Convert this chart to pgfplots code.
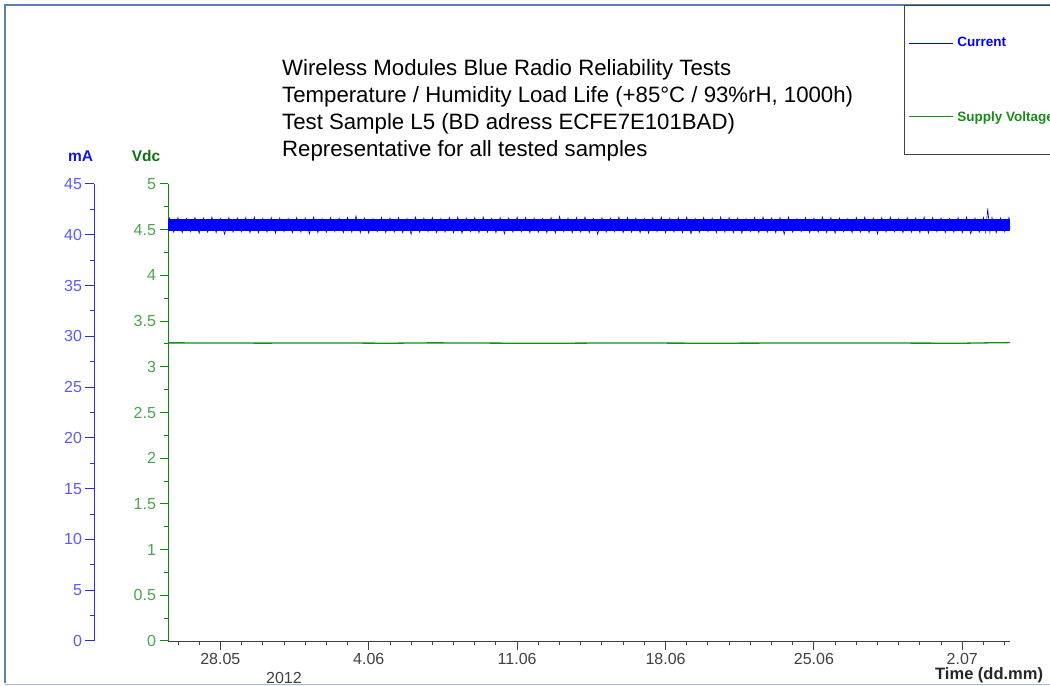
\documentclass[border=0pt]{standalone}
\usepackage{pgfplots}
\pgfplotsset{compat=1.18}
\usepackage{fontspec}
\setmainfont{Liberation Sans}
\definecolor{frameblue}{HTML}{5B7FAE}
\definecolor{framelight}{HTML}{A8B6CC}
\definecolor{curblue}{HTML}{0000FF}
\definecolor{maaxis}{HTML}{2A2AFF}
\definecolor{malabel}{HTML}{5A5AFF}
\definecolor{matitle}{HTML}{1515E0}
\definecolor{vgreen}{HTML}{1A8A1A}
\definecolor{vaxis}{HTML}{0B8A0B}
\definecolor{vlabel}{HTML}{4AA64A}
\definecolor{vtitle}{HTML}{107010}
\begin{document}
\begin{tikzpicture}
\clip (0bp,0bp) rectangle (1050bp,686bp);
\fill[white] (0bp,0bp) rectangle (1050bp,686bp);
\draw[frameblue, line width=2bp] (5bp,3bp) -- (5bp,681bp) -- (1050bp,681bp);
\draw[framelight, line width=1.5bp] (5bp,1.5bp) -- (1050bp,1.5bp);
% Voltage axis (main)
\begin{axis}[
  at={(168bp,45bp)}, anchor=south west,
  width=842bp, height=457bp, scale only axis,
  xmin=-2.47, xmax=37.25, ymin=0, ymax=5,
  axis x line*=bottom, axis y line*=left,
  axis line style={-},
  every outer x axis line/.append style={-},
  every outer y axis line/.append style={-},
  x axis line style={draw=black!75, line width=0.9bp},
  y axis line style={draw=vaxis, line width=1bp},
  tick align=outside,
  major tick length=8.5bp, minor tick length=4bp,
  xtick={0,7,14,21,28,35},
  xticklabels={28.05,4.06,11.06,18.06,25.06,2.07},
  minor xtick={-2,-1,...,37},
  ytick={0,0.5,...,5},
  yticklabels={0,0.5,1,1.5,2,2.5,3,3.5,4,4.5,5},
  minor y tick num=1,
  xtick style={draw=black!75, line width=0.9bp},
  ytick style={draw=vaxis, line width=1bp},
  xticklabel style={font=\fontsize{16bp}{18bp}\selectfont, text=black!75},
  yticklabel style={font=\fontsize{16bp}{18bp}\selectfont, text=vlabel},
  /pgf/number format/assume math mode=true,
]
\addplot[vgreen, line width=1.3bp] coordinates {
(-2.47,3.262) (2,3.259) (5,3.261) (8,3.258) (10,3.262) (13,3.259) (15,3.257) (18,3.26) (20,3.26)
(23,3.258) (25,3.259) (28,3.261) (30,3.261) (33,3.259) (35,3.258) (36.2,3.262) (37.25,3.265)
};
\end{axis}
% Current axis
\begin{axis}[
  at={(168bp,45bp)}, anchor=south west,
  width=842bp, height=457bp, scale only axis,
  xmin=-2.47, xmax=37.25, ymin=0, ymax=45,
  axis x line=none, axis y line*=left,
  axis y line shift=74bp,
  axis line style={-},
  every outer y axis line/.append style={-},
  y axis line style={draw=maaxis, line width=1bp},
  tick align=outside,
  major tick length=8.5bp, minor tick length=4bp,
  xtick=\empty,
  ytick={0,5,...,45},
  minor y tick num=1,
  ytick style={draw=maaxis, line width=1bp},
  yticklabel style={font=\fontsize{16bp}{18bp}\selectfont, text=malabel},
  /pgf/number format/assume math mode=true,
  legend cell align=left,
  legend image code/.code={\draw[#1] (0bp,0bp) -- (44bp,0bp);},
  legend style={at={(0.8741,1.3917)}, anchor=north west, draw=black!75, line width=0.8bp,
    fill=white, inner xsep=4bp, inner ysep=30bp, row sep=59bp,
    font=\bfseries\fontsize{13.5bp}{15bp}\selectfont},
]
\addplot[curblue, line width=12bp, forget plot] coordinates {(-2.47,40.95) (37.25,40.95)};
\addplot[curblue, line width=0.6bp] coordinates {
(-2.47,40.6) (-2.4,41.65) (-2.2,40.25) (-2.0,41.7) (-1.8,40.2) (-1.6,41.6) (-1.4,40.3) (-1.2,41.7) (-1.0,40.15) (-0.8,41.65) (-0.6,40.25)
(-0.4,41.75) (-0.2,40.2) (0.0,41.6) (0.2,40.05) (0.4,41.7) (0.6,40.25) (0.8,41.65) (1.0,40.3) (1.2,41.7) (1.4,40.2)
(1.6,41.75) (1.8,40.2) (2.0,41.6) (2.2,40.25) (2.4,41.7) (2.6,40.15) (2.8,41.65) (3.0,40.3) (3.2,41.6) (3.4,40.2)
(3.6,41.7) (3.8,40.25) (4.0,41.65) (4.2,40.1) (4.4,41.75) (4.6,40.2) (4.8,41.6) (5.0,40.25) (5.2,41.7) (5.4,40.3)
(5.6,41.65) (5.8,40.2) (6.0,41.7) (6.2,40.25) (6.4,41.85) (6.6,40.2) (6.8,41.65) (7.0,40.15) (7.2,41.6) (7.4,40.3)
(7.6,41.7) (7.8,40.2) (8.0,41.65) (8.2,40.25) (8.4,41.7) (8.6,40.2) (8.8,41.6) (9.0,40.05) (9.2,41.75) (9.4,40.25)
(9.6,41.65) (9.8,40.3) (10.0,41.7) (10.2,40.2) (10.4,41.6) (10.6,40.25) (10.8,41.7) (11.0,40.2) (11.2,41.75) (11.4,40.15)
(11.6,41.65) (11.8,40.3) (12.0,41.7) (12.2,40.2) (12.4,41.75) (12.6,40.25) (12.8,41.6) (13.0,40.2) (13.2,41.7) (13.4,40.1)
(13.6,41.65) (13.8,40.25) (14.0,41.75) (14.2,40.3) (14.4,41.7) (14.6,40.2) (14.8,41.65) (15.0,40.25) (15.2,41.6) (15.4,40.2)
(15.6,41.7) (15.8,40.15) (16.0,41.8) (16.2,40.3) (16.4,41.65) (16.6,40.2) (16.8,41.7) (17.0,40.25) (17.2,41.75) (17.4,40.2)
(17.6,41.6) (17.8,40.05) (18.0,41.7) (18.2,40.25) (18.4,41.65) (18.6,40.3) (18.8,41.75) (19.0,40.2) (19.2,41.7) (19.4,40.25)
(19.6,41.65) (19.8,40.2) (20.0,41.6) (20.2,40.15) (20.4,41.7) (20.6,40.3) (20.8,41.75) (21.0,40.2) (21.2,41.65) (21.4,40.25)
(21.6,41.7) (21.8,40.2) (22.0,41.75) (22.2,40.1) (22.4,41.6) (22.6,40.25) (22.8,41.7) (23.0,40.3) (23.2,41.65) (23.4,40.2)
(23.6,41.75) (23.8,40.25) (24.0,41.7) (24.2,40.2) (24.4,41.65) (24.6,40.15) (24.8,41.6) (25.0,40.3) (25.2,41.7) (25.4,40.2)
(25.6,41.75) (25.8,40.25) (26.0,41.65) (26.2,40.2) (26.4,41.7) (26.6,40.05) (26.8,41.75) (27.0,40.25) (27.2,41.6) (27.4,40.3)
(27.6,41.7) (27.8,40.2) (28.0,41.65) (28.2,40.25) (28.4,41.75) (28.6,40.2) (28.8,41.7) (29.0,40.15) (29.2,41.65) (29.4,40.3)
(29.6,41.6) (29.8,40.2) (30.0,41.7) (30.2,40.25) (30.4,41.75) (30.6,40.2) (30.8,41.65) (31.0,40.1) (31.2,41.7) (31.4,40.25)
(31.6,41.75) (31.8,40.3) (32.0,41.6) (32.2,40.2) (32.4,41.7) (32.6,40.25) (32.8,41.65) (33.0,40.2) (33.2,41.75) (33.4,40.15)
(33.6,41.7) (33.8,40.3) (34.0,41.65) (34.2,40.2) (34.4,41.6) (34.6,40.25) (34.8,41.7) (35.0,40.2) (35.2,41.75) (35.4,40.1)
(35.6,41.65) (35.8,40.25) (36.0,41.7) (36.1,40.3) (36.2,42.6) (36.3,40.25) (36.4,41.7) (36.6,40.2) (36.8,41.65) (37.0,40.3) (37.2,41.7) (37.25,40.5)
};
\addlegendentry{\hspace*{2bp}\textcolor{curblue}{Current}\hspace*{90bp}}
\addlegendimage{vgreen, line width=1bp}
\addlegendentry{\hspace*{2bp}\textcolor{vgreen}{Supply Voltage}\hspace*{20bp}}
\end{axis}
% texts
\node[anchor=center, font=\bfseries\fontsize{15.5bp}{17bp}\selectfont, text=matitle] at (80.5bp,530bp) {mA};
\node[anchor=center, font=\bfseries\fontsize{15.5bp}{17bp}\selectfont, text=vtitle] at (146bp,530bp) {Vdc};
\begin{scope}[every node/.style={anchor=base west, inner sep=0pt, font=\fontsize{22.2bp}{26bp}\selectfont}]
\node at (282bp,610bp) {Wireless Modules Blue Radio Reliability Tests};
\node at (282bp,583bp) {Temperature / Humidity Load Life (+85°C / 93\%rH, 1000h)};
\node at (282bp,556bp) {Test Sample L5 (BD adress ECFE7E101BAD)};
\node at (282bp,529bp) {Representative for all tested samples};
\end{scope}
\node[anchor=center, inner sep=0pt, font=\fontsize{16bp}{18bp}\selectfont, text=black!75] at (284bp,8bp) {2012};
\node[anchor=base west, inner sep=0pt, font=\bfseries\fontsize{16.5bp}{18bp}\selectfont, text=black!85] at (935bp,6.7bp) {Time (dd.mm)};
\end{tikzpicture}
\end{document}
